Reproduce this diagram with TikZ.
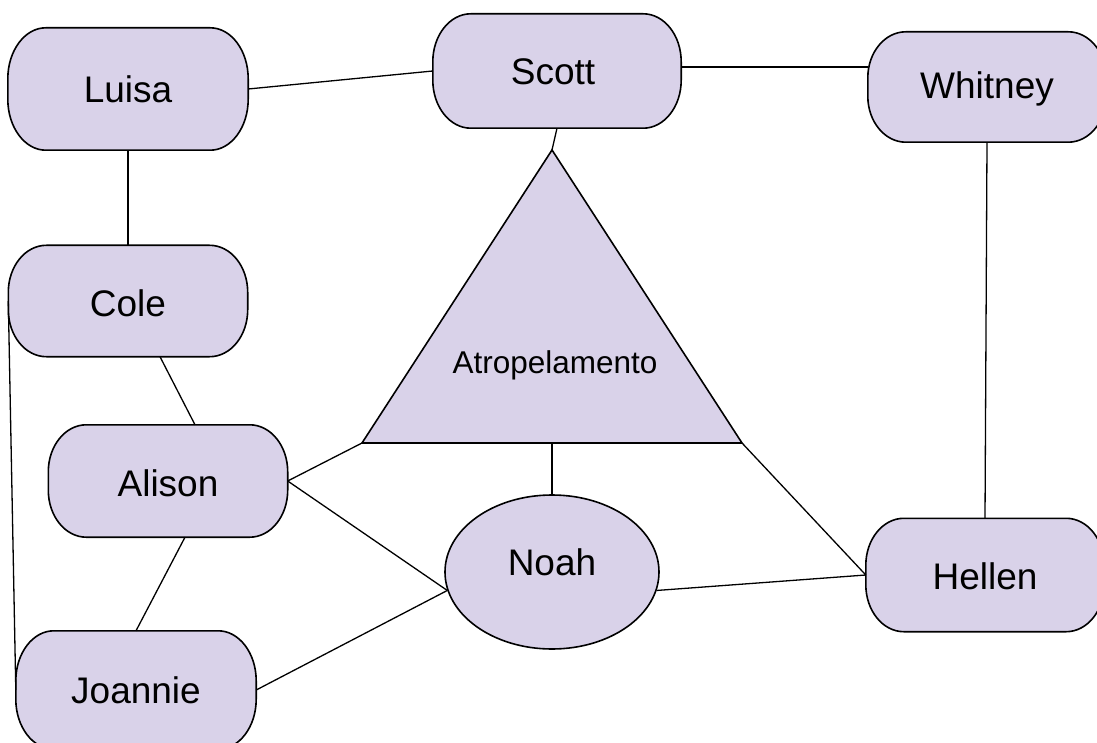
\documentclass[tikz,border=0pt]{standalone}
\usepackage{fontspec}
\setmainfont{Liberation Sans}
\usetikzlibrary{shapes.geometric,calc}
\definecolor{lav}{HTML}{D9D2E9}
% #1 node name, #2 vertical corner radius
\newcommand\pillbg[2]{%
  \filldraw[shapeline]
    ($(#1.north west)+(38,0)$) -- ($(#1.north east)+(-38,0)$)
    arc[start angle=-90,end angle=0,x radius=38,y radius=#2]
    -- ($(#1.south east)+(0,-#2)$)
    arc[start angle=0,end angle=90,x radius=38,y radius=#2]
    -- ($(#1.south west)+(38,0)$)
    arc[start angle=90,end angle=180,x radius=38,y radius=#2]
    -- ($(#1.north west)+(0,#2)$)
    arc[start angle=180,end angle=270,x radius=38,y radius=#2] -- cycle;}
\begin{document}
\begin{tikzpicture}[x=1pt,y=-1pt,
  shapeline/.style={draw=black,line width=1.6pt,fill=lav},
  pill/.style={minimum width=#1,inner sep=0pt,font=\fontsize{37}{44}\selectfont},
  oval/.style={shapeline,ellipse,inner sep=0pt},
  edge/.style={draw=black,line width=1.3pt}]
\clip (0,0) rectangle (1097,743);
\fill[white] (0,0) rectangle (1097,743);
\coordinate (tA) at (552,150);
\coordinate (tL) at (362,443);
\coordinate (tR) at (742,443);
\coordinate (tB) at (552,443);
% node geometry (invisible nodes, outlines drawn by \pillbg)
\path node[pill=240pt,minimum height=122pt] (luisa) at (128,89) {}
      node[pill=248pt,minimum height=114pt] (scott) at (557,71) {}
      node[pill=238pt,minimum height=110pt] (whitney) at (987,87) {}
      node[pill=239pt,minimum height=111pt] (cole) at (128,301) {}
      node[pill=239pt,minimum height=112pt] (alison) at (168,481) {}
      node[pill=240pt,minimum height=118pt] (joannie) at (136,690) {}
      node[pill=238pt,minimum height=113pt] (hellen) at (985,575) {};
\pillbg{luisa}{51}\pillbg{scott}{48}\pillbg{whitney}{46}\pillbg{cole}{47}
\pillbg{alison}{47}\pillbg{joannie}{50}\pillbg{hellen}{47}
\node[pill=10pt] (tluisa) at (128,89) {Luisa};
\node[pill=10pt] (tscott) at (553,72) {Scott};
\node[pill=10pt] (twhitney) at (987,89) {Whitney};
\node[pill=10pt] (tcole) at (128,303) {Cole};
\node[pill=10pt] (talison) at (168,483) {Alison};
\node[pill=10pt] (tjoannie) at (136,690) {Joannie};
\node[pill=10pt] (thellen) at (985,576) {Hellen};
\node[oval,minimum width=214pt,minimum height=154pt] (noah) at (552,572) {};
\node[pill=10pt] (tnoah) at (552,562) {Noah};
\fill[lav,draw=black,line width=1.6pt,line join=miter] (tA) -- (tR) -- (tL) -- cycle;
\node[font=\fontsize{31.5}{38}\selectfont,inner sep=0pt] (atro) at (555,365) {Atropelamento};
\draw[edge] (luisa.east) -- (scott.west);
\draw[edge] ([yshift=4pt]scott.east) -- ([yshift=4pt]scott.east -| whitney.west);
\draw[edge] (scott.south) -- (tA);
\draw[edge] (luisa.south) -- (cole.north);
\draw[edge] (whitney.south) -- (hellen.north);
\draw[edge] ([xshift=32pt]cole.south) -- ([xshift=27pt]alison.north);
\draw[edge] (cole.west) -- (joannie.west);
\draw[edge] ([xshift=17pt]alison.south) -- (joannie.north);
\draw[edge] (alison.east) -- (tL);
\draw[edge] (alison.east) -- (noah.190);
\draw[edge] (joannie.east) -- (noah.190);
\draw[edge] (tB) -- (noah.north);
\draw[edge] (tR) -- (hellen.west);
\draw[edge] (noah.350) -- (hellen.west);
\end{tikzpicture}
\end{document}
